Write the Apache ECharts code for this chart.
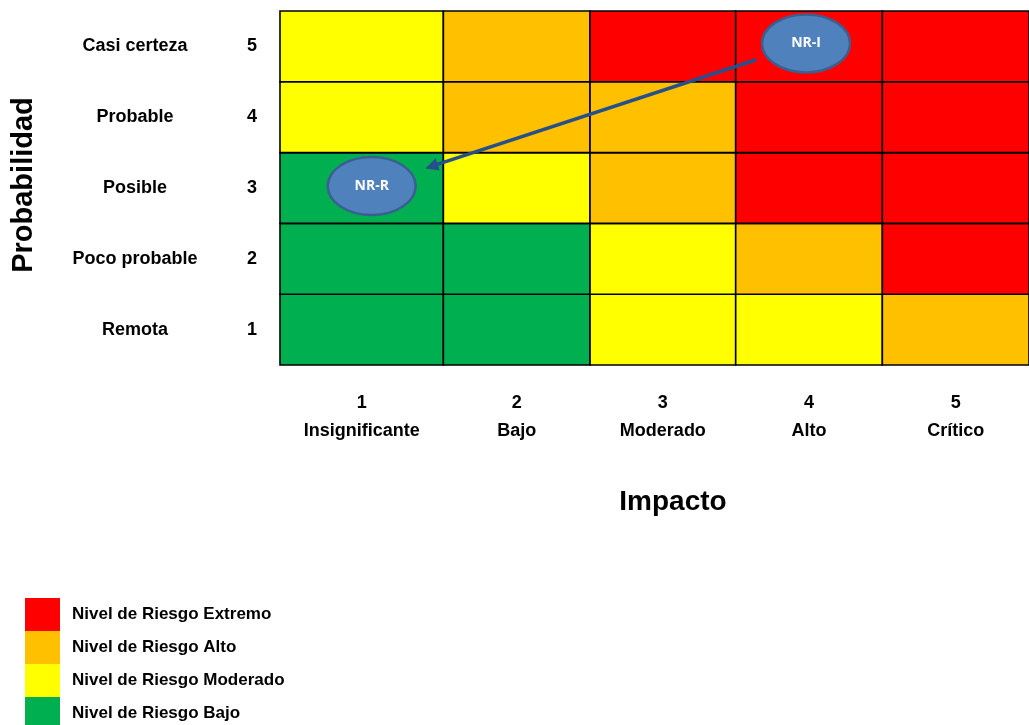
<!DOCTYPE html>
<html>
<head>
<meta charset="utf-8">
<script src="https://cdn.jsdelivr.net/npm/echarts@6/dist/echarts.min.js"></script>
<style>
  html, body { margin: 0; padding: 0; background: #ffffff; }
  #chart { width: 1029px; height: 725px; }
</style>
</head>
<body>
<div id="chart"></div>
<script>
// Matriz de riesgo: probabilidad (filas) frente a impacto (columnas)
const impactNums = [1, 2, 3, 4, 5];
const impactLabels = ['Insignificante', 'Bajo', 'Moderado', 'Alto', 'Crítico'];
const probNums = [1, 2, 3, 4, 5];
const probLabels = ['Remota', 'Poco probable', 'Posible', 'Probable', 'Casi certeza'];

// Nivel de riesgo de cada celda (1 = Bajo, 2 = Moderado, 3 = Alto, 4 = Extremo),
// una fila por probabilidad, columnas de impacto 1..5
const levelsProb1 = [1, 1, 2, 2, 3];
const levelsProb2 = [1, 1, 2, 3, 4];
const levelsProb3 = [1, 2, 3, 4, 4];
const levelsProb4 = [2, 3, 3, 4, 4];
const levelsProb5 = [2, 3, 4, 4, 4];

const levelValues = [1, 2, 3, 4];
const levelNames = ['Nivel de Riesgo Bajo', 'Nivel de Riesgo Moderado', 'Nivel de Riesgo Alto', 'Nivel de Riesgo Extremo'];

// Marcadores: nivel de riesgo inherente y residual
const riskNames = ['NR-I', 'NR-R'];
const riskImpact = [4, 1];
const riskProb = [5, 3];

// ---- presentación ----
const levelColors = ['#00b050', '#ffff00', '#ffc000', '#ff0000'];
const colSpans = [166, 149, 148, 149, 149];          // ancho relativo de cada columna de impacto
const colEdges = colSpans.reduce((a, w) => { a.push(a[a.length - 1] + w); return a; }, [0]);
const colCenters = impactNums.map(i => (colEdges[i - 1] + colEdges[i]) / 2);
const markerNudge = [[-3, -3], [10, -2]];
const FONT = '"Liberation Sans", Arial, sans-serif';

const levelRows = [levelsProb1, levelsProb2, levelsProb3, levelsProb4, levelsProb5];
const cellData = [];
levelRows.forEach((row, p) => row.forEach((lv, i) => cellData.push([impactNums[i], p, lv])));

const markerData = riskNames.map((n, k) => [riskImpact[k], riskProb[k] - 1, n]);
const arrowData = [[riskImpact[0], riskProb[0] - 1, riskImpact[1], riskProb[1] - 1]];

function markerPoint(api, impact, probIdx, k) {
  const pt = api.coord([colCenters[impact - 1], probIdx]);
  return [pt[0] + markerNudge[k][0], pt[1] + markerNudge[k][1]];
}

const RX = 44, RY = 29;

const chart = echarts.init(document.getElementById('chart'));
chart.setOption({
  animation: false,
  backgroundColor: '#ffffff',
  textStyle: { fontFamily: FONT },
  grid: { left: 280, top: 11, width: 761, height: 354, containLabel: false },
  xAxis: {
    type: 'value',
    min: 0,
    max: colEdges[colEdges.length - 1],
    axisLine: { show: false },
    axisTick: { show: false },
    splitLine: { show: false },
    axisLabel: {
      customValues: colCenters,
      margin: 24,
      formatter: function (v) {
        let idx = 0, best = Infinity;
        colCenters.forEach((c, j) => { if (Math.abs(c - v) < best) { best = Math.abs(c - v); idx = j; } });
        return '{n|' + impactNums[idx] + '}\n{t|' + impactLabels[idx] + '}';
      },
      rich: {
        n: { fontFamily: FONT, fontWeight: 'bold', fontSize: 18, color: '#000', lineHeight: 28, align: 'center' },
        t: { fontFamily: FONT, fontWeight: 'bold', fontSize: 18, color: '#000', lineHeight: 28, align: 'center' }
      }
    },
    name: 'Impacto',
    nameLocation: 'middle',
    nameGap: 123,
    nameTextStyle: { fontFamily: FONT, fontWeight: 'bold', fontSize: 28, color: '#000', padding: [0, 0, 0, 37] }
  },
  yAxis: {
    type: 'category',
    data: probLabels,
    axisLine: { show: false },
    axisTick: { show: false },
    splitLine: { show: false },
    axisLabel: {
      margin: 11,
      formatter: function (value, index) {
        return '{l|' + value + '}{d|' + probNums[index] + '}';
      },
      rich: {
        l: { fontFamily: FONT, fontWeight: 'bold', fontSize: 18, color: '#000', width: 200, align: 'center' },
        d: { fontFamily: FONT, fontWeight: 'bold', fontSize: 18, color: '#000', width: 34, align: 'center' }
      }
    },
    name: 'Probabilidad',
    nameLocation: 'middle',
    nameRotate: 90,
    nameGap: 242,
    nameTextStyle: { fontFamily: FONT, fontWeight: 'bold', fontSize: 29, color: '#000', padding: [0, 0, 0, 6] }
  },
  visualMap: {
    type: 'piecewise',
    seriesIndex: 0,
    dimension: 2,
    orient: 'vertical',
    align: 'left',
    left: 10,
    top: 583,
    itemWidth: 35,
    itemHeight: 33,
    itemGap: 0,
    itemSymbol: 'rect',
    textGap: 12,
    selectedMode: false,
    hoverLink: false,
    textStyle: { fontFamily: FONT, fontWeight: 'bold', fontSize: 17, color: '#000' },
    pieces: levelValues.map((v, k) => ({ value: v, label: levelNames[k], color: levelColors[k] }))
  },
  series: [
    {
      // celdas de la matriz
      type: 'custom',
      coordinateSystem: 'cartesian2d',
      encode: { x: 0, y: 1 },
      silent: true,
      data: cellData,
      renderItem: function (params, api) {
        const i = api.value(0), p = api.value(1);
        const a = api.coord([colEdges[i - 1], p]);
        const b = api.coord([colEdges[i], p]);
        const h = api.size([0, 1])[1];
        return {
          type: 'rect',
          shape: { x: a[0], y: a[1] - h / 2, width: b[0] - a[0], height: h },
          style: { fill: api.visual('color'), stroke: '#000', lineWidth: 1.6 }
        };
      },
      z: 1
    },
    {
      // flecha de NR-I a NR-R
      type: 'custom',
      coordinateSystem: 'cartesian2d',
      silent: true,
      data: arrowData,
      renderItem: function (params, api) {
        const s = markerPoint(api, api.value(0), api.value(1), 0);
        const e = markerPoint(api, api.value(2), api.value(3), 1);
        const dx = e[0] - s[0], dy = e[1] - s[1];
        const len = Math.sqrt(dx * dx + dy * dy);
        const ux = dx / len, uy = dy / len;
        const edge = 1 / Math.sqrt((ux / RX) * (ux / RX) + (uy / RY) * (uy / RY));
        const p0 = [s[0] + ux * (edge + 11), s[1] + uy * (edge + 11)];
        const tip = [e[0] - ux * (edge + 15), e[1] - uy * (edge + 15)];
        const headLen = 13, headHalf = 6.5;
        const base = [tip[0] - ux * headLen, tip[1] - uy * headLen];
        const nx = -uy, ny = ux;
        return {
          type: 'group',
          children: [
            {
              type: 'line',
              shape: { x1: p0[0], y1: p0[1], x2: base[0] + ux * 2, y2: base[1] + uy * 2 },
              style: { stroke: '#27508a', lineWidth: 3.5 }
            },
            {
              type: 'polygon',
              shape: { points: [tip, [base[0] + nx * headHalf, base[1] + ny * headHalf], [base[0] - nx * headHalf, base[1] - ny * headHalf]] },
              style: { fill: '#27508a' }
            }
          ]
        };
      },
      z: 3
    },
    {
      // elipses NR-I / NR-R
      type: 'custom',
      coordinateSystem: 'cartesian2d',
      silent: true,
      data: markerData,
      renderItem: function (params, api) {
        const c = markerPoint(api, api.value(0), api.value(1), params.dataIndex);
        return {
          type: 'group',
          children: [
            {
              type: 'ellipse',
              shape: { cx: c[0], cy: c[1], rx: RX, ry: RY },
              style: { fill: '#4f81bd', stroke: '#3a6090', lineWidth: 2.5 }
            },
            {
              type: 'text',
              style: {
                x: c[0], y: c[1],
                text: riskNames[params.dataIndex],
                fill: '#ffffff',
                fontFamily: '"Open Sans", ' + FONT,
                fontWeight: 'bold',
                fontSize: 14,
                align: 'center',
                verticalAlign: 'middle'
              }
            }
          ]
        };
      },
      z: 4
    }
  ]
});
</script>
</body>
</html>
